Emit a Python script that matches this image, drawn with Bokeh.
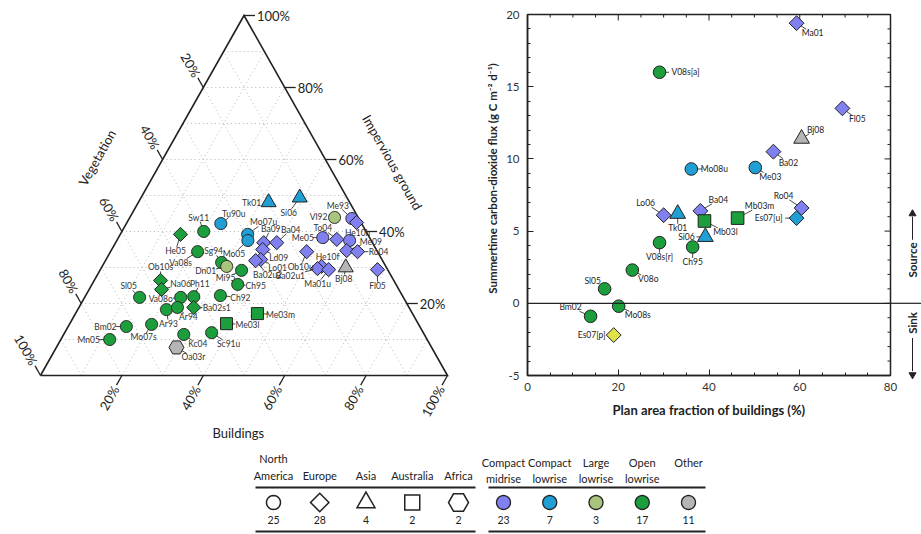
import math
from bokeh.plotting import figure
from bokeh.models import Range1d, SingleIntervalTicker, Span, ColumnDataSource
from bokeh.core.properties import value
from bokeh.embed import file_html
from bokeh.resources import INLINE

FONT = "Lato"
INK = "#222222"

# ---------------- DATA : ternary (percent of plan area) ----------------
tern_names = ["Sw11", "Tu90u", "He05", "Va08s", "Sg94", "Dn01", "Mi95", "Ob10s", "Na06", "Sl05",
              "Va08o", "Ph11", "Ar93", "Ar94", "Ba02s1", "Mo07s", "Bm02", "Mn05", "Kc04", "Oa03r",
              "Sc91u", "Me03l", "Me03m", "Ch92", "Ch95", "Tk01", "Si06", "Mo07u", "Mo05", "Ba09",
              "Ba04", "Ld09", "Lo01", "Ba02u2", "Me05", "To04", "He10h", "Me09", "Ro04", "Me93",
              "", "Vl92", "Ob10u", "He10f", "Ba02u1", "Ma01u", "Bj08", "Fl05"]
tern_buildings = [20.1, 23.2, 14.8, 21.4, 28.8, 30.6, 34.8, 16.3, 17.8, 13.5,
                  23.6, 26.7, 21.8, 24.2, 28.2, 20.2, 14.3, 12.0, 29.5, 29.5,
                  36.1, 38.5, 44.7, 33.1, 35.8, 32.0, 39.0, 31.3, 32.2, 36.4,
                  39.6, 37.1, 38.0, 36.9, 50.2, 53.9, 57.2, 57.9, 60.7, 54.7,
                  56.4, 50.3, 48.2, 53.9, 53.2, 56.1, 60.0, 68.1]
tern_impervious = [40.0, 42.2, 39.2, 34.4, 31.4, 30.3, 29.2, 26.4, 23.9, 21.7,
                   21.7, 21.9, 18.3, 18.9, 18.9, 14.2, 13.6, 10.0, 11.4, 7.8,
                   11.9, 14.4, 17.2, 22.2, 25.3, 48.1, 49.4, 39.2, 37.5, 36.9,
                   36.9, 35.0, 32.2, 31.9, 38.3, 37.8, 37.5, 34.7, 34.4, 43.6,
                   42.5, 43.9, 34.4, 30.3, 29.7, 29.4, 30.0, 29.4]
tern_region = ["NA", "NA", "EU", "NA", "NA", "NA", "NA", "EU", "EU", "NA",
               "NA", "NA", "NA", "NA", "EU", "NA", "NA", "NA", "NA", "AF",
               "NA", "AU", "AU", "NA", "NA", "AS", "AS", "NA", "NA", "EU",
               "EU", "EU", "EU", "EU", "NA", "EU", "NA", "EU", "EU", "NA",
               "EU", "NA", "EU", "EU", "EU", "EU", "AS", "EU"]
tern_lcz = ["OL", "CL", "OL", "OL", "OL", "LL", "OL", "OL", "OL", "OL",
            "OL", "OL", "OL", "OL", "OL", "OL", "OL", "OL", "OL", "OT",
            "OL", "OL", "OL", "OL", "OL", "CL", "CL", "CL", "CL", "CM",
            "CM", "CM", "CM", "CM", "CM", "CM", "CM", "CM", "CM", "CM",
            "CM", "LL", "CM", "CM", "CM", "CM", "OT", "CM"]

# ---------------- DATA : CO2 flux vs building fraction ----------------
flux_names = ["Ma01", "V08s[a]", "Fl05", "Bj08", "Ba02", "Mo08u", "Me03", "Lo06", "Tk01", "Ba04",
              "Mb03l", "Mb03m", "Ro04", "Es07[u]", "Si06", "V08s[r]", "Ch95", "V08o", "Sl05", "Mo08s",
              "Bm02", "Es07[p]"]
flux_buildings = [59.3, 29.1, 69.4, 60.4, 54.2, 36.1, 50.2, 30.0, 33.1, 38.1,
                  39.0, 46.3, 60.4, 59.3, 39.2, 29.1, 36.4, 23.1, 17.0, 20.1,
                  13.9, 19.0]
flux_values = [19.4, 16.0, 13.5, 11.4, 10.5, 9.3, 9.4, 6.1, 6.2, 6.4,
               5.7, 5.9, 6.6, 5.9, 4.6, 4.2, 3.9, 2.3, 1.0, -0.2,
               -0.9, -2.2]
flux_region = ["EU", "NA", "EU", "AS", "EU", "NA", "NA", "EU", "AS", "EU",
               "AU", "AU", "EU", "EU", "AS", "NA", "NA", "NA", "NA", "NA",
               "NA", "EU"]
flux_lcz = ["CM", "OL", "CM", "OT", "CM", "CL", "CL", "CM", "CL", "CM",
            "OL", "OL", "CM", "CL", "CL", "OL", "OL", "OL", "OL", "OL",
            "OL", "YL"]

# ---------------- DATA : legend ----------------
legend_regions = ["NA", "EU", "AS", "AU", "AF"]
legend_region_names = ["North\nAmerica", "Europe", "Asia", "Australia", "Africa"]
legend_region_counts = ["25", "28", "4", "2", "2"]
legend_lczs = ["CM", "CL", "LL", "OL", "OT"]
legend_lcz_names = ["Compact\nmidrise", "Compact\nlowrise", "Large\nlowrise", "Open\nlowrise", "Other"]
legend_lcz_counts = ["23", "7", "3", "17", "11"]

tern_ticks = [20, 40, 60, 80, 100]
flux_x_major = list(range(0, 81, 20))
flux_x_minor = [v for v in range(0, 81, 5) if v % 20]
flux_y_major = list(range(-5, 21, 5))
flux_y_minor = [v for v in range(-5, 21) if v % 5]

# ---------------- STYLE ----------------
LCZ_COLOR = {"CM": "#8080f0", "CL": "#1f9fd3", "LL": "#a9c57d", "OL": "#1c9e3c",
             "OT": "#b5b5b5", "YL": "#dfe14a"}
REGION_MARKER = {"NA": ("circle", 0.0, 12), "EU": ("square", math.pi / 4, 10),
                 "AS": ("triangle", 0.0, 15), "AU": ("square", 0.0, 12),
                 "AF": ("hex", 0.0, 15)}
LEGEND_SIZE = {"NA": 14, "EU": 13, "AS": 18, "AU": 15, "AF": 20}

tern_label_dx = [-5, 13, -5, -17, -8, -21, -16, 0, 19, -11,
                 -20, 6, 2, 11, 23, -8, -21, -21, 14, 17,
                 17, 21, 23, 20, 18, -17, -11, 16, -14, 7,
                 14, 16, 17, 12, -20, -14, 8, 24, 21, -14,
                 0, -16, -6, 6, -27, -11, -2, 0]
tern_label_dy = [-14, -10, 17, 11, -11, 5, 8, -13, -5, -11,
                 2, -13, 14, 10, 1, 13, 0, 0, 10, 10,
                 11, 1, 1, 2, 2, 1, 15, -12, 13, -14,
                 -13, 8, 8, 14, 0, -11, -8, -9, 0, -13,
                 0, 0, 15, -9, 7, 14, 11, 16]
flux_label_dx = [16, 26, 15, 14, 15, 23, 15, -18, 0, 18,
                 21, 22, -18, -28, -19, 0, 0, 16, -12, 19,
                 -20, -22]
flux_label_dy = [10, 0, 11, -9, 11, 0, 9, -12, 14, -11,
                 11, -12, -12, 0, 0, 14, 15, 9, -8, 9,
                 -9, 0]

# frame of the flux panel (screen px) and ternary geometry (screen px)
FL, FR, FT, FB = 527, 890, 14, 375
W, H = 921, 534
T_X0, T_X1, T_Y0, T_Y1 = 40, 447, 375, 15      # ternary base left/right x, base y, apex y
PXX, PXY = (T_X1 - T_X0) / 100.0, (T_Y0 - T_Y1) / 100.0
PXX2, PXY2 = (FR - FL) / 80.0, (FB - FT) / 25.0


def marker_cols(regions, lczs, scale=1.0):
    mk, ang, sz, col = [], [], [], []
    for r, l in zip(regions, lczs):
        m, a, s = REGION_MARKER[r]
        mk.append(m); ang.append(a); sz.append(s * scale); col.append(LCZ_COLOR[l])
    return mk, ang, sz, col


def shape_offsets(marker, angle, size):
    r = size / 2.0
    if marker == "circle":
        pts = [(r * math.cos(2 * math.pi * k / 32), r * math.sin(2 * math.pi * k / 32)) for k in range(32)]
    elif marker == "square":
        pts = [(-r, -r), (r, -r), (r, r), (-r, r)]
    elif marker in ("triangle", "inverted_triangle"):
        h = size * math.sqrt(3) / 2
        pts = [(0, -2 * h / 3), (r, h / 3), (-r, h / 3)]
        if marker == "inverted_triangle":
            pts = [(x, -y) for x, y in pts]
    else:  # hex
        pts = [(r * math.cos(math.pi * k / 3), r * math.sin(math.pi * k / 3)) for k in range(6)]
    ca, sa = math.cos(angle), math.sin(angle)
    return [(x * ca - y * sa, x * sa + y * ca) for x, y in pts]


def label_layout(xs, ys, dxs, dys, names, pxx, pxy, char_w, half_h):
    lx, ly = [], []
    x0, y0, x1, y1 = [], [], [], []
    for x, y, dx, dy, n in zip(xs, ys, dxs, dys, names):
        lx.append(x + dx / pxx)
        ly.append(y - dy / pxy)
        d = math.hypot(dx, dy)
        if not n or d == 0:
            continue
        ux, uy = dx / d, dy / d
        hw = char_w * len(n) / 2 + 1.5
        t = min(hw / abs(ux) if ux else 1e9, half_h / abs(uy) if uy else 1e9)
        e = d - t
        if e < 7:
            continue
        x0.append(x); y0.append(y)
        x1.append(x + ux * e / pxx); y1.append(y - uy * e / pxy)
    return lx, ly, x0, y0, x1, y1


def tern_xy(b, i):
    return b + i / 2.0, i


# ======================= one figure; frame = flux panel =======================
p = figure(width=W, height=H, x_range=Range1d(0, 80), y_range=Range1d(-5, 20),
           output_backend="svg", toolbar_location=None,
           min_border_left=FL, min_border_right=W - FR, min_border_top=FT, min_border_bottom=H - FB,
           outline_line_color=INK, outline_line_width=1.5, outline_line_alpha=1.0)
p.grid.visible = False
p.extra_x_ranges = {"tx": Range1d((FL - T_X0) / PXX, (FR - T_X0) / PXX),
                    "px": Range1d(FL, FR)}
p.extra_y_ranges = {"ty": Range1d((T_Y0 - FB) / PXY, (T_Y0 - FT) / PXY),
                    "py": Range1d(FB, FT)}
TK = dict(x_range_name="tx", y_range_name="ty", level="annotation")
PX = dict(x_range_name="px", y_range_name="py", level="annotation")
PXF = dict(x_range_name="px", level="annotation")


def draw_markers(xs, ys, markers, angles, sizes, fills, pxx, pxy, lw, rng):
    # one patch per marker (drawn in data order so later markers overlap earlier ones)
    for x, y, m, a, s, f in zip(xs, ys, markers, angles, sizes, fills):
        offs = shape_offsets(m, a, s)
        p.patch([x + dx / pxx for dx, _ in offs], [y - dy / pxy for _, dy in offs],
                fill_color=f, line_color=INK, line_width=lw, line_join="miter", **rng)


# ---------- flux axes ----------
p.xaxis.ticker = SingleIntervalTicker(interval=20, num_minor_ticks=4)
p.yaxis.ticker = SingleIntervalTicker(interval=5, num_minor_ticks=5)
p.yaxis.major_label_overrides = {-5: "-5"}
for ax in (p.xaxis[0], p.yaxis[0]):
    ax.major_tick_in = 6; ax.major_tick_out = 0
    ax.minor_tick_in = 3; ax.minor_tick_out = 0
    ax.axis_line_width = 1.5; ax.axis_line_color = INK
    ax.major_tick_line_color = INK; ax.minor_tick_line_color = INK
    ax.major_label_text_font = FONT; ax.major_label_text_font_size = "11.5px"
    ax.major_label_text_color = "#333333"
    ax.axis_label_text_font = FONT; ax.axis_label_text_font_style = "bold"
    ax.axis_label_text_color = INK
p.xaxis.axis_label = "Plan area fraction of buildings (%)"
p.xaxis.axis_label_text_font_size = "13px"
p.xaxis.major_label_standoff = 7
p.yaxis.major_label_standoff = 8
p.xaxis.axis_label_standoff = 8
# y title sits a little above the frame centre in the reference
p.text([492], [178], text=["Summertime carbon-dioxide flux (g C m\u207b\u00b2 d\u207b\u00b9)"],
       angle=math.pi / 2, text_align="center", text_baseline="middle", text_font=value(FONT),
       text_font_size="11.5px", text_font_style="bold", text_color=INK, **PX)

# inward ticks on the top and right sides of the box
p.segment(flux_x_major, [20] * len(flux_x_major), flux_x_major,
          [20 - 6 / PXY2] * len(flux_x_major), line_color=INK, line_width=1)
p.segment(flux_x_minor, [20] * len(flux_x_minor), flux_x_minor,
          [20 - 3 / PXY2] * len(flux_x_minor), line_color=INK, line_width=1)
p.segment([80] * len(flux_y_major), flux_y_major, [80 - 6 / PXX2] * len(flux_y_major),
          flux_y_major, line_color=INK, line_width=1)
p.segment([80] * len(flux_y_minor), flux_y_minor, [80 - 3 / PXX2] * len(flux_y_minor),
          flux_y_minor, line_color=INK, line_width=1)

p.add_layout(Span(location=0, dimension="width", line_color=INK, line_width=1.2))

flx, fly, fx0, fy0, fx1, fy1 = label_layout(flux_buildings, flux_values, flux_label_dx, flux_label_dy,
                                            flux_names, PXX2, PXY2, 4.3, 4.0)
p.segment(fx0, fy0, fx1, fy1, line_color="#333333", line_width=0.9)
mk2, ang2, sz2, col2 = marker_cols(flux_region, flux_lcz, 1.05)
src2 = ColumnDataSource(dict(x=flux_buildings, y=flux_values, marker=mk2, angle=ang2, size=sz2, color=col2))
p.scatter(x="x", y="y", marker="marker", angle="angle", size="size", fill_color="color",
          line_color=INK, line_width=1, source=src2)
p.text(flx, fly, text=flux_names, text_align="center", text_baseline="middle",
       text_font=value(FONT), text_font_size="8.5px", text_color="#222222")

# ---------- source / sink (outside the box, right) ----------
p.segment([FR], [0], [W], [0], line_color=INK, line_width=1.2, **PXF)
p.text([912, 912], [3.0, -1.36], text=["Source", "Sink"], angle=math.pi / 2, text_align="center",
       text_baseline="middle", text_font=value(FONT), text_font_size="11.5px",
       text_font_style="bold", text_color=INK, **PXF)
p.segment([912, 912], [4.4, -2.4], [912, 912], [6.0, -4.7], line_color=INK, line_width=1, **PXF)
draw_markers([912, 912], [6.2, -4.95], ["triangle", "inverted_triangle"], [0, 0], [7, 7],
             [INK, INK], 1.0, PXY2, 1, PXF)

# ======================= ternary diagram =======================
gx0, gy0, gx1, gy1 = [], [], [], []
for k in range(10, 100, 10):
    for (b0, i0), (b1, i1) in [((0, k), (100 - k, k)), ((k, 0), (k, 100 - k)),
                               ((100 - k, 0), (0, 100 - k))]:
        xa, ya = tern_xy(b0, i0); xb, yb = tern_xy(b1, i1)
        gx0.append(xa); gy0.append(ya); gx1.append(xb); gy1.append(yb)
p.segment(gx0, gy0, gx1, gy1, line_color="#b8b8b8", line_dash="1 3", line_width=1, **TK)

vx, vy = zip(*[tern_xy(0, 0), tern_xy(100, 0), tern_xy(0, 100), tern_xy(0, 0)])
p.line(list(vx), list(vy), line_color=INK, line_width=1.6, line_join="miter", **TK)

TL = 11
EL = math.hypot((T_X1 - T_X0) / 2.0, T_Y0 - T_Y1)
EDGE_C, EDGE_S = (T_X1 - T_X0) / 2.0 / EL, (T_Y0 - T_Y1) / EL
ANG = math.atan2(EDGE_S, EDGE_C)
tick_lbl = [f"{t}%" for t in tern_ticks]
TXT = dict(text_font=value(FONT), text_font_size="13px", text_color=INK)
# buildings (bottom edge)
bx0 = [tern_xy(t, 0)[0] for t in tern_ticks]; by0 = [0.0] * len(tern_ticks)
bdx, bdy = -EDGE_C / PXX, -EDGE_S / PXY
p.segment(bx0, by0, [x + bdx * TL for x in bx0], [y + bdy * TL for y in by0],
          line_color=INK, line_width=1.3, **TK)
p.text([x + bdx * (TL + 2) for x in bx0], [y + bdy * (TL + 2) for y in by0], text=tick_lbl,
       angle=ANG, text_align="right", text_baseline="middle", **TXT, **TK)
# vegetation (left edge)
lx0 = [tern_xy(0, 100 - t)[0] for t in tern_ticks]; ly0 = [tern_xy(0, 100 - t)[1] for t in tern_ticks]
ldx, ldy = -EDGE_C / PXX, EDGE_S / PXY
p.segment(lx0, ly0, [x + ldx * TL for x in lx0], [y + ldy * TL for y in ly0],
          line_color=INK, line_width=1.3, **TK)
p.text([x + ldx * (TL + 2) for x in lx0], [y + ldy * (TL + 2) for y in ly0], text=tick_lbl,
       angle=-ANG, text_align="right", text_baseline="middle", **TXT, **TK)
# impervious ground (right edge)
rx0 = [tern_xy(100 - t, t)[0] for t in tern_ticks]; ry0 = [float(t) for t in tern_ticks]
p.segment(rx0, ry0, [x + TL / PXX for x in rx0], ry0, line_color=INK, line_width=1.3, **TK)
p.text([x + (TL + 2) / PXX for x in rx0], ry0, text=tick_lbl, text_align="left",
       text_baseline="middle", **TXT, **TK)

# axis titles
vxt, vyt = tern_xy(0, 52.6)
p.text([vxt - EDGE_S * 58 / PXX], [vyt + EDGE_C * 58 / PXY], text=["Vegetation"], angle=ANG,
       text_align="center", text_baseline="middle", **TXT, **TK)
ixt, iyt = tern_xy(48.6, 51.4)
p.text([ixt + EDGE_S * 57 / PXX], [iyt + EDGE_C * 57 / PXY], text=["Impervious ground"], angle=-ANG,
       text_align="center", text_baseline="middle", **TXT, **TK)
bxt, byt = tern_xy(48.6, 0)
p.text([bxt], [byt - 57 / PXY], text=["Buildings"], text_align="center", text_baseline="middle",
       **TXT, **TK)

# points
txy = [tern_xy(b, i) for b, i in zip(tern_buildings, tern_impervious)]
tx = [a for a, _ in txy]; ty = [b for _, b in txy]
lbx, lby, lx0s, ly0s, lx1s, ly1s = label_layout(tx, ty, tern_label_dx, tern_label_dy, tern_names,
                                                PXX, PXY, 4.3, 4.0)
p.segment(lx0s, ly0s, lx1s, ly1s, line_color="#333333", line_width=0.9, **TK)
mk, ang, sz, col = marker_cols(tern_region, tern_lcz)
draw_markers(tx, ty, mk, ang, sz, col, PXX, PXY, 1, TK)
p.text(lbx, lby, text=tern_names, text_align="center", text_baseline="middle",
       text_font=value(FONT), text_font_size="8.5px", text_color="#333333", **TK)

# ======================= legend (screen px) =======================
STEP = 46.25
lgx_l = [273 + STEP * k for k in range(len(legend_regions))]
lgx_r = [503 + STEP * k for k in range(len(legend_lczs))]
Y_HEAD_B, Y_HEAD_T, Y_RULE1, Y_SYM, Y_CNT, Y_RULE2 = 481, 455, 487, 502, 519, 531

p.text(lgx_l, [Y_HEAD_B] * 5, text=legend_region_names, text_align="center", text_baseline="bottom",
       text_font=value(FONT), text_font_size="11px", text_color=INK, text_line_height=1.25, **PX)
p.text(lgx_r, [Y_HEAD_T] * 5, text=legend_lcz_names, text_align="center", text_baseline="top",
       text_font=value(FONT), text_font_size="11px", text_color=INK, text_line_height=1.25, **PX)
p.segment([255, 488, 255, 488], [Y_RULE1, Y_RULE1, Y_RULE2, Y_RULE2],
          [475, 705, 475, 705], [Y_RULE1, Y_RULE1, Y_RULE2, Y_RULE2], line_color=INK, line_width=2, **PX)
draw_markers(lgx_l, [Y_SYM] * 5, [REGION_MARKER[r][0] for r in legend_regions],
             [REGION_MARKER[r][1] for r in legend_regions], [LEGEND_SIZE[r] for r in legend_regions],
             ["white"] * 5, 1.0, -1.0, 1.5, PX)
draw_markers(lgx_r, [Y_SYM] * 5, ["circle"] * 5, [0] * 5, [14] * 5,
             [LCZ_COLOR[c] for c in legend_lczs], 1.0, -1.0, 1.3, PX)
p.text(lgx_l + lgx_r, [Y_CNT] * 10, text=legend_region_counts + legend_lcz_counts, text_align="center",
       text_baseline="middle", text_font=value(FONT), text_font_size="10.5px", text_color=INK, **PX)

open("out.html", "w").write(file_html(p, INLINE))
